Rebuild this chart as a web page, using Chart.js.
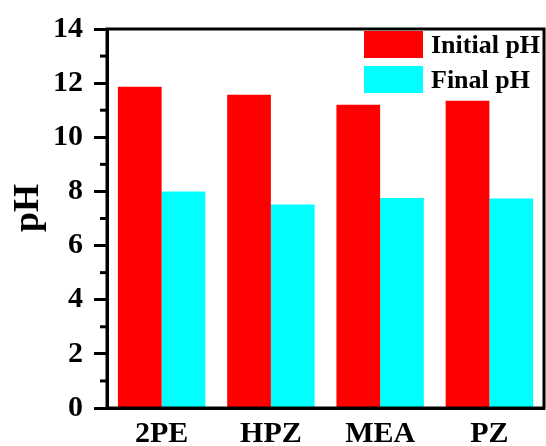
<!DOCTYPE html>
<html>
<head>
<meta charset="utf-8">
<script src="https://cdn.jsdelivr.net/npm/chart.js@4/dist/chart.umd.min.js"></script>
<style>
    body { margin: 0; background: #fff; }
    canvas { display: block; }
</style>
</head>
<body>
<canvas id="ph-chart" width="546" height="446"></canvas>
<script>
const categories = ["2PE", "HPZ", "MEA", "PZ"]
const initialPH = [11.87, 11.57, 11.20, 11.35]
const finalPH = [8.00, 7.52, 7.76, 7.74]
const yMinorTicks = [1, 3, 5, 7, 9, 11, 13]
const yTitle = "pH"

const serif = "'Liberation Serif', 'Times New Roman', serif"

// frame around the plot, minor ticks, y title and the legend box
const framePlugin = {
    id: "frame",
    afterDraw(chart) {
        const { ctx, chartArea: a, scales } = chart
        ctx.save()
        ctx.strokeStyle = "#000"
        ctx.lineWidth = 3
        ctx.strokeRect(a.left, a.top, a.right - a.left, a.bottom - a.top)

        yMinorTicks.forEach(v => {
            const y = scales.y.getPixelForValue(v)
            ctx.beginPath()
            ctx.moveTo(a.left - 7, y)
            ctx.lineTo(a.left, y)
            ctx.stroke()
        })

        ctx.fillStyle = "#000"
        ctx.save()
        ctx.translate(29, 208)
        ctx.rotate(-Math.PI / 2)
        ctx.font = `bold 36px ${serif}`
        ctx.textAlign = "center"
        ctx.textBaseline = "middle"
        ctx.fillText(yTitle, 0, 0)
        ctx.restore()

        ctx.font = `bold 26px ${serif}`
        ctx.textBaseline = "middle"
        chart.data.datasets.forEach((ds, i) => {
            const top = 31 + i * 35
            ctx.fillStyle = ds.backgroundColor
            ctx.fillRect(364, top, 59, 27)
            ctx.fillStyle = "#000"
            ctx.fillText(ds.label, 431, top + 15)
        })
        ctx.restore()
    }
}

new Chart(document.getElementById("ph-chart"), {
    type: "bar",
    data: {
        labels: categories,
        datasets: [{
            label: "Initial pH",
            data: initialPH,
            backgroundColor: "#ff0000",
        }, {
            label: "Final pH",
            data: finalPH,
            backgroundColor: "#00ffff",
        }]
    },
    options: {
        responsive: false,
        animation: false,
        layout: {
            padding: { top: 28, right: 2, left: 0, bottom: 0 }
        },
        datasets: {
            bar: {
                categoryPercentage: 0.8,
                barPercentage: 1.0,
            }
        },
        scales: {
            x: {
                afterFit: (scale) => { scale.height = 38 },
                grid: { drawOnChartArea: false, drawTicks: false },
                border: { color: "#000", width: 3 },
                ticks: {
                    color: "#000",
                    padding: 8,
                    font: { family: serif, size: 30, weight: "bold" }
                }
            },
            y: {
                min: 0,
                max: 14,
                afterFit: (scale) => { scale.width = 107 },
                grid: {
                    drawOnChartArea: false,
                    drawTicks: true,
                    tickLength: 13,
                    tickWidth: 3,
                    tickColor: "#000"
                },
                border: { color: "#000", width: 3 },
                ticks: {
                    stepSize: 2,
                    color: "#000",
                    padding: 11,
                    font: { family: serif, size: 30, weight: "bold" }
                }
            }
        },
        plugins: {
            legend: { display: false },
            tooltip: { enabled: false }
        }
    },
    plugins: [framePlugin]
})
</script>
</body>
</html>
